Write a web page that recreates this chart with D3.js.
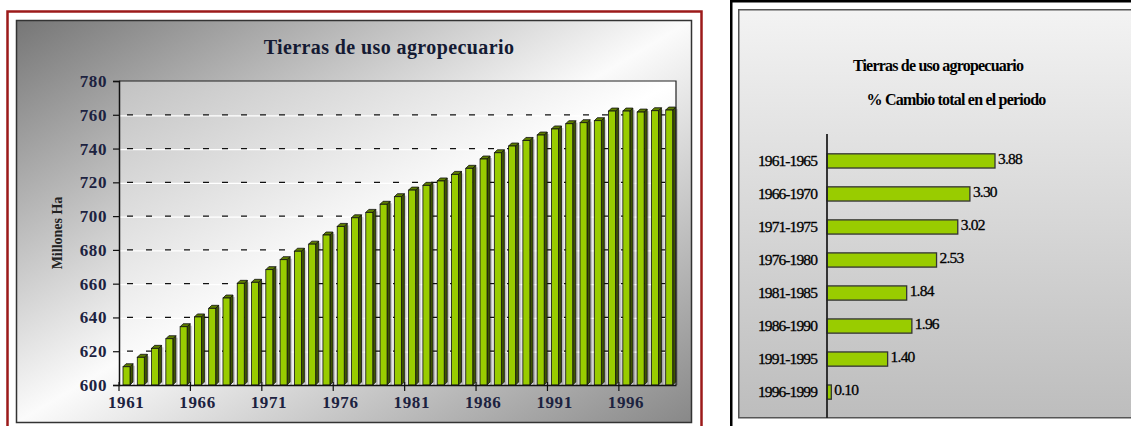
<!DOCTYPE html>
<html>
<head>
<meta charset="utf-8">
<script src="https://cdn.jsdelivr.net/npm/d3@7"></script>
<style>
  body { margin: 0; background: #fff; }
  svg { display: block; }
</style>
</head>
<body>
<div class="canvas"></div>
<script>
// data
const years = d3.range(1961, 2000);
const landHa = [
  610.8, 616.4, 621.7, 627.4, 634.5, 640.3, 645.4, 651.5, 660.2, 660.8,
  668.3, 674.2, 679.2, 683.4, 688.8, 693.9, 699.0, 702.2, 707.0, 711.5,
  715.4, 718.2, 720.8, 724.7, 728.3, 733.8, 737.5, 741.5, 744.8, 748.0,
  751.6, 754.7, 755.3, 756.5, 762.2, 762.2, 761.6, 762.4, 762.8
];
const yTicks = [600, 620, 640, 660, 680, 700, 720, 740, 760, 780];
const xTickYears = [1961, 1966, 1971, 1976, 1981, 1986, 1991, 1996];

const periods = ['1961-1965', '1966-1970', '1971-1975', '1976-1980',
  '1981-1985', '1986-1990', '1991-1995', '1996-1999'];
const pctChange = [3.88, 3.30, 3.02, 2.53, 1.84, 1.96, 1.40, 0.10];

const titleText = 'Tierras de uso agropecuario';
const subtitleText = '% Cambio total en el periodo';
const yLabelText = 'Millones Ha';

const svg = d3.select('.canvas')
  .append('svg')
  .attr('width', 1131)
  .attr('height', 426);

const defs = svg.append('defs');

const grad = (id, x2, y2, stops) => {
  const g = defs.append('linearGradient')
    .attr('id', id)
    .attr('x1', 0).attr('y1', 0)
    .attr('x2', x2).attr('y2', y2);
  stops.forEach(s => g.append('stop').attr('offset', s[0]).attr('stop-color', s[1]));
};
grad('outerBg', 1, 1, [[0, '#767676'], [0.5, '#fbfbfb'], [1, '#888888']]);
grad('plotBg', 1, 1, [[0, '#c2c2c2'], [0.5, '#ffffff'], [1, '#c6c6c6']]);
grad('rightBg', 0, 1, [[0, '#f3f3f3'], [1, '#bdbdbd']]);

const serif = '"Liberation Serif", "Times New Roman", serif';

// ---------------- left chart ----------------
svg.append('rect')
  .attr('x', 7.5).attr('y', 11.5)
  .attr('width', 694).attr('height', 430)
  .attr('fill', '#fff')
  .attr('stroke', '#9c1a1a')
  .attr('stroke-width', 2.5);

svg.append('rect')
  .attr('x', 16.5).attr('y', 20.5)
  .attr('width', 675).attr('height', 402)
  .attr('fill', 'url(#outerBg)')
  .attr('stroke', '#333')
  .attr('stroke-width', 1.5);

const margin = { top: 81, left: 119 };
const graphWidth = 676 - 119;
const graphHeight = 385 - 81;

const graph = svg.append('g')
  .attr('transform', `translate(${margin.left},${margin.top})`);

graph.append('rect')
  .attr('width', graphWidth)
  .attr('height', graphHeight)
  .attr('fill', 'url(#plotBg)');

const x = d3.scaleBand()
  .domain(years)
  .range([0, graphWidth]);

const y = d3.scaleLinear()
  .domain([600, 780])
  .range([graphHeight, 0]);

// gridlines (white line under a black dashed one)
const grid = graph.append('g');
yTicks.filter(v => v > 600 && v < 780).forEach(v => {
  grid.append('line')
    .attr('x1', 0).attr('x2', graphWidth)
    .attr('y1', y(v) + 1).attr('y2', y(v) + 1)
    .attr('stroke', '#fff').attr('stroke-width', 1.2);
  grid.append('line')
    .attr('x1', 8).attr('x2', graphWidth)
    .attr('y1', y(v)).attr('y2', y(v))
    .attr('stroke', '#111').attr('stroke-width', 1.2)
    .attr('stroke-dasharray', '6,13');
});

// 3d bars
const bw = 7, dep = 3;
const bars = graph.append('g')
  .selectAll('g')
  .data(years.map((yr, i) => ({ yr, v: landHa[i] })))
  .enter()
  .append('g');

// shadow
bars.append('rect')
  .attr('x', d => x(d.yr) + 4 + bw + dep)
  .attr('y', d => y(d.v) - dep + 2)
  .attr('width', 2)
  .attr('height', d => graphHeight - y(d.v) + dep - 2)
  .attr('fill', '#000')
  .attr('opacity', 0.18);

bars.append('path')
  .attr('d', d => {
    const x0 = x(d.yr) + 4 + bw, t = y(d.v), b = graphHeight;
    return `M${x0},${t}L${x0 + dep},${t - dep}L${x0 + dep},${b - dep}L${x0},${b}Z`;
  })
  .attr('fill', '#3f5400')
  .attr('stroke', '#111')
  .attr('stroke-width', 0.8);

bars.append('path')
  .attr('d', d => {
    const x0 = x(d.yr) + 4, t = y(d.v);
    return `M${x0},${t}L${x0 + dep},${t - dep}L${x0 + bw + dep},${t - dep}L${x0 + bw},${t}Z`;
  })
  .attr('fill', '#5e7d00')
  .attr('stroke', '#111')
  .attr('stroke-width', 0.8);

bars.append('rect')
  .attr('x', d => x(d.yr) + 4)
  .attr('y', d => y(d.v))
  .attr('width', bw)
  .attr('height', d => graphHeight - y(d.v))
  .attr('fill', '#99cc00')
  .attr('stroke', '#111')
  .attr('stroke-width', 0.8);

// plot frame top/right
graph.append('path')
  .attr('d', `M0,0H${graphWidth}V${graphHeight}`)
  .attr('fill', 'none')
  .attr('stroke', '#222')
  .attr('stroke-width', 1.2);

// axes
const yAxis = d3.axisLeft(y)
  .tickValues(yTicks)
  .tickSize(6)
  .tickPadding(6);
const yAxisGroup = graph.append('g').call(yAxis);

const xAxis = d3.axisBottom(x)
  .tickValues(xTickYears)
  .tickSize(0)
  .tickPadding(11);
const xAxisGroup = graph.append('g')
  .attr('transform', `translate(0,${graphHeight})`)
  .call(xAxis);

// x tick marks sit on the left band edge every 5 years
xAxisGroup.selectAll('.edge')
  .data(xTickYears)
  .enter()
  .append('line')
  .attr('x1', d => x(d)).attr('x2', d => x(d))
  .attr('y1', -3).attr('y2', 6);

[yAxisGroup, xAxisGroup].forEach(g => {
  g.select('.domain').attr('stroke', '#111').attr('stroke-width', 1.5);
  g.selectAll('line').attr('stroke', '#111').attr('stroke-width', 1.2);
  g.selectAll('text')
    .attr('font-family', serif)
    .attr('font-weight', 'bold')
    .attr('font-size', 17)
    .attr('letter-spacing', 0.6)
    .attr('fill', '#1c2240');
});

svg.append('text')
  .attr('x', 389).attr('y', 54)
  .attr('text-anchor', 'middle')
  .attr('font-family', serif)
  .attr('font-weight', 'bold')
  .attr('font-size', 20)
  .attr('letter-spacing', 0.4)
  .attr('fill', '#141a33')
  .text(titleText);

svg.append('text')
  .attr('transform', 'translate(62,233) rotate(-90)')
  .attr('text-anchor', 'middle')
  .attr('font-family', serif)
  .attr('font-weight', 'bold')
  .attr('font-size', 14)
  .attr('fill', '#222')
  .text(yLabelText);

// ---------------- right chart ----------------
svg.append('rect')
  .attr('x', 731.25).attr('y', 1.25)
  .attr('width', 500).attr('height', 500)
  .attr('fill', '#fff')
  .attr('stroke', '#000')
  .attr('stroke-width', 2.5);

svg.append('rect')
  .attr('x', 738.75).attr('y', 9.75)
  .attr('width', 500).attr('height', 408)
  .attr('fill', 'url(#rightBg)')
  .attr('stroke', '#555')
  .attr('stroke-width', 1.5);

const hx = d3.scaleLinear()
  .domain([0, 4])
  .range([827, 827 + 173.2]);

const hy = d3.scaleBand()
  .domain(periods)
  .range([135, 418])
  .padding(0.57);

const right = svg.append('g');

right.selectAll('rect.hbar')
  .data(periods.map((p, i) => ({ p, v: pctChange[i] })))
  .enter()
  .append('rect')
  .attr('class', 'hbar')
  .attr('x', hx(0))
  .attr('y', d => hy(d.p))
  .attr('width', d => hx(d.v) - hx(0))
  .attr('height', hy.bandwidth())
  .attr('fill', '#99cc00')
  .attr('stroke', '#333')
  .attr('stroke-width', 1.3);

right.selectAll('text.val')
  .data(periods.map((p, i) => ({ p, v: pctChange[i] })))
  .enter()
  .append('text')
  .attr('class', 'val')
  .attr('x', d => hx(d.v) + 3)
  .attr('y', d => hy(d.p) + hy.bandwidth() / 2 + 3)
  .attr('font-family', serif)
  .attr('font-size', 15.5)
  .attr('letter-spacing', -0.8)
  .attr('fill', '#000')
  .attr('stroke', '#000')
  .attr('stroke-width', 0.3)
  .text(d => d.v.toFixed(2));

const hAxis = d3.axisLeft(hy).tickSize(0).tickPadding(10);
const hAxisGroup = right.append('g')
  .attr('transform', `translate(${hx(0)},0)`)
  .call(hAxis);
hAxisGroup.select('.domain').remove();
hAxisGroup.selectAll('text')
  .attr('dy', '0.3em')
  .attr('font-family', serif)
  .attr('font-size', 15.5)
  .attr('letter-spacing', -0.9)
  .attr('fill', '#000')
  .attr('stroke', '#000')
  .attr('stroke-width', 0.3);

right.append('line')
  .attr('x1', hx(0)).attr('x2', hx(0))
  .attr('y1', 134).attr('y2', 418)
  .attr('stroke', '#222')
  .attr('stroke-width', 1.8);

right.append('text')
  .attr('x', 938).attr('y', 71)
  .attr('text-anchor', 'middle')
  .attr('font-family', serif)
  .attr('font-weight', 'bold')
  .attr('font-size', 16)
  .attr('letter-spacing', -0.8)
  .attr('fill', '#000')
  .text(titleText);

right.append('text')
  .attr('x', 956).attr('y', 105)
  .attr('text-anchor', 'middle')
  .attr('font-family', serif)
  .attr('font-weight', 'bold')
  .attr('font-size', 16)
  .attr('letter-spacing', -0.8)
  .attr('fill', '#000')
  .text(subtitleText);
</script>
</body>
</html>
